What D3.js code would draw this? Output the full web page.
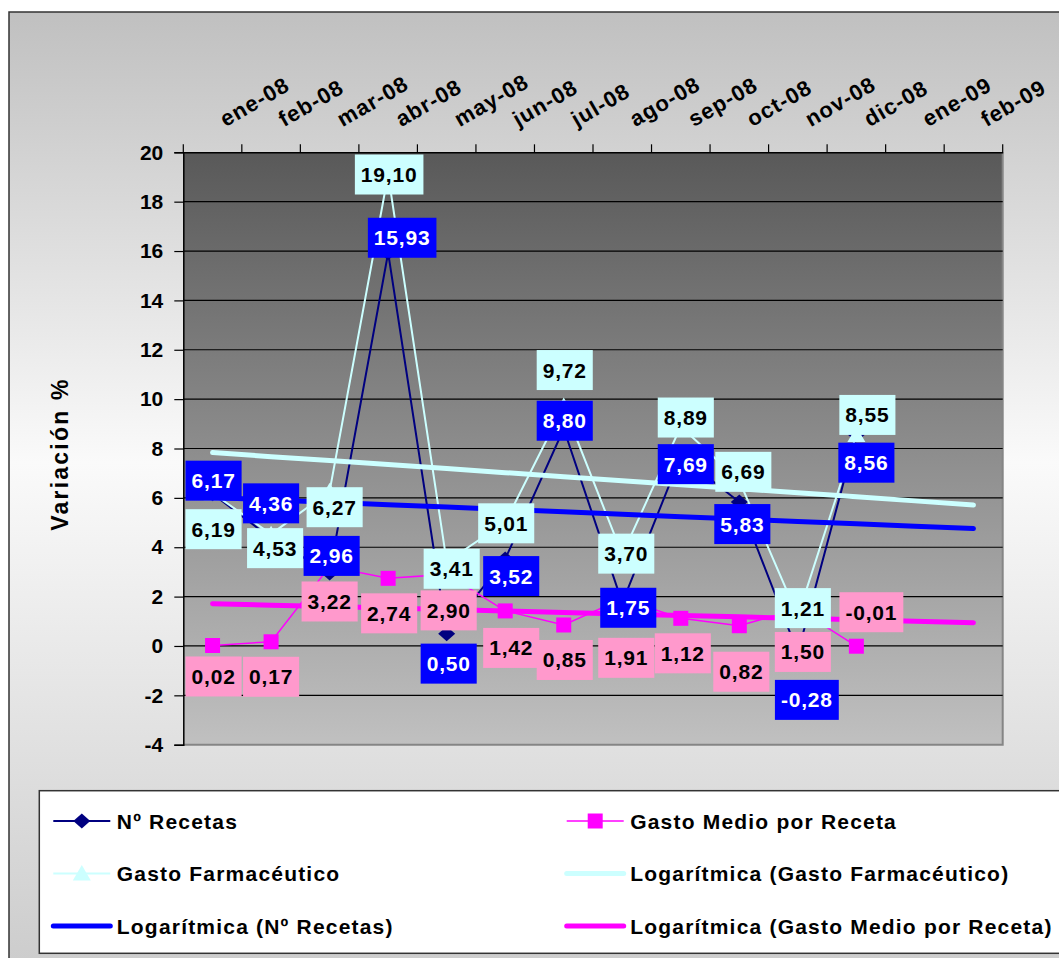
<!DOCTYPE html>
<html>
<head>
<meta charset="utf-8">
<script src="https://cdn.jsdelivr.net/npm/d3@7/dist/d3.min.js"></script>
<style>
  html, body { margin: 0; padding: 0; background: #fff; }
  svg { display: block; font-family: "Liberation Sans", Arial, sans-serif; font-weight: bold; }
</style>
</head>
<body>
<svg id="chart" width="1059" height="958"></svg>
<script>
const months = ['ene-08', 'feb-08', 'mar-08', 'abr-08', 'may-08', 'jun-08', 'jul-08',
                'ago-08', 'sep-08', 'oct-08', 'nov-08', 'dic-08', 'ene-09', 'feb-09'];
const recetas    = [6.17, 4.36, 2.96, 15.93, 0.50, 3.52, 8.80, 1.75, 7.69, 5.83, -0.28, 8.56];
const gastoMedio = [0.02, 0.17, 3.22, 2.74, 2.90, 1.42, 0.85, 1.91, 1.12, 0.82, 1.50, -0.01];
const gastoFarma = [6.19, 4.53, 6.27, 19.10, 3.41, 5.01, 9.72, 3.70, 8.89, 6.69, 1.21, 8.55];
const yTicks = [-4, -2, 0, 2, 4, 6, 8, 10, 12, 14, 16, 18, 20];

// label nudges (px, box centre relative to the point), the labels were hand placed
const recetasNudge = [[1,-13],[0,-35],[2,-17],[14,-15],[2,30],[6,17],[1,-8],[6,5],[5,8],[3,22],[9,47],[10,28]];
const farmaNudge   = [[1,36],[4,14],[5,16],[1,0],[5,7],[1,1],[1,-36],[4,-1],[5,-9],[4,-9],[5,-8],[11,-20]];
const medioNudge   = [[1,31],[0,35],[0,35],[1,35],[2,36],[6,37],[1,35],[4,59],[2,35],[2,46],[5,43],[15,-34]];

const svg = d3.select('#chart');
const defs = svg.append('defs');
const loc = d3.formatLocale({ decimal: ',', thousands: '.', grouping: [3], currency: ['', ' €'], minus: '-' });

const bgGrad = defs.append('linearGradient').attr('id', 'bg')
  .attr('gradientUnits', 'userSpaceOnUse').attr('x1', 0).attr('y1', 12).attr('x2', 0).attr('y2', 970);
bgGrad.append('stop').attr('offset', 0).attr('stop-color', '#c0c0c0');
bgGrad.append('stop').attr('offset', 0.47).attr('stop-color', '#fafafa');
bgGrad.append('stop').attr('offset', 1).attr('stop-color', '#cccccc');

const plotGrad = defs.append('linearGradient').attr('id', 'plotbg')
  .attr('x1', 0).attr('y1', 0).attr('x2', 0).attr('y2', 1);
plotGrad.append('stop').attr('offset', 0).attr('stop-color', '#595959');
plotGrad.append('stop').attr('offset', 1).attr('stop-color', '#c0c0c0');

svg.append('rect').attr('x', 9).attr('y', 12).attr('width', 1100).attr('height', 1000)
  .attr('fill', 'url(#bg)').attr('stroke', '#333').attr('stroke-width', 1.5);

const L = 183.3, R = 1002.7, T = 152.3, B = 744.7;

const x = d3.scaleBand().domain(months).range([L, R]);
const y = d3.scaleLinear().domain([-4, 20]).range([B, T]);
const cx = i => x(months[i]) + x.bandwidth() / 2;

// plot area
svg.append('rect').attr('x', L).attr('y', T).attr('width', R - L).attr('height', B - T)
  .attr('fill', 'url(#plotbg)');
svg.append('path').attr('d', `M${R},${T}V${B}H${L}`)
  .attr('fill', 'none').attr('stroke', '#858585').attr('stroke-width', 2);

// gridlines
svg.append('g').selectAll('line').data(yTicks.slice(1, -1)).join('line')
  .attr('x1', L).attr('x2', R).attr('y1', d => y(d)).attr('y2', d => y(d))
  .attr('stroke', '#000').attr('stroke-width', 1.2);

// y axis
const yAxis = svg.append('g').attr('transform', `translate(${L},0)`)
  .call(d3.axisLeft(y).tickValues(yTicks).tickSize(9).tickPadding(11).tickFormat(loc.format('d')));
yAxis.select('.domain').attr('stroke', '#000').attr('stroke-width', 1.5);
yAxis.selectAll('.tick line').attr('stroke', '#000').attr('stroke-width', 1.2);
yAxis.selectAll('.tick text').attr('font-size', 21).attr('font-weight', 'bold')
  .attr('fill', '#000').attr('font-family', '"Liberation Sans", Arial, sans-serif');

// top category axis
const xAxis = svg.append('g').attr('transform', `translate(0,${T})`)
  .call(d3.axisTop(x).tickSize(0).tickFormat(''));
xAxis.select('.domain').attr('stroke', '#000').attr('stroke-width', 1.5);
svg.append('g').selectAll('line').data(d3.range(months.length + 1)).join('line')
  .attr('x1', i => L + i * x.bandwidth()).attr('x2', i => L + i * x.bandwidth())
  .attr('y1', T - 8).attr('y2', T).attr('stroke', '#000').attr('stroke-width', 1.2);
svg.append('g').selectAll('text').data(months).join('text')
  .attr('transform', (d, i) => `translate(${cx(i) + 13},${T - 25}) rotate(-30)`)
  .attr('font-size', 22).attr('letter-spacing', 1).attr('fill', '#000')
  .text(d => d);

// y title
svg.append('text').attr('transform', 'translate(68,454) rotate(-90)')
  .attr('text-anchor', 'middle').attr('font-size', 23).attr('letter-spacing', 2.2)
  .attr('fill', '#000').text('Variación %');

// logarithmic trend (Excel style, x = date serial)
const serial = i => (Date.UTC(2008, i, 1) - Date.UTC(1899, 11, 30)) / 864e5;
function logTrend(vals) {
  const lx = vals.map((v, i) => Math.log(serial(i)));
  const mx = d3.mean(lx), my = d3.mean(vals);
  const a = d3.sum(lx, (l, i) => (l - mx) * (vals[i] - my)) / d3.sum(lx, l => (l - mx) ** 2);
  const b = my - a * mx;
  return months.map((m, i) => a * Math.log(serial(i)) + b);
}

const line = d3.line().x((d, i) => cx(i)).y(d => y(d));

const series = [
  { vals: recetas,    color: '#000080', w: 2,   marker: 'diamond', fill: '#000080' },
  { vals: gastoMedio, color: '#ff00ff', w: 1.5, marker: 'square',  fill: '#ff00ff' },
  { vals: gastoFarma, color: '#ccffff', w: 2,   marker: 'triangle', fill: '#ccffff' }
];
const trends = [
  { vals: logTrend(gastoFarma), color: '#ccffff' },
  { vals: logTrend(recetas),    color: '#0000ff' },
  { vals: logTrend(gastoMedio), color: '#ff00ff' }
];

const markerPath = {
  diamond:  'M0,-7.5L8.5,0L0,7.5L-8.5,0Z',
  square:   'M-7.5,-7.5H7.5V7.5H-7.5Z',
  triangle: 'M0,-8.5L9,7L-9,7Z'
};

const gLines = svg.append('g');
series.forEach(s => {
  gLines.append('path').datum(s.vals).attr('d', line)
    .attr('fill', 'none').attr('stroke', s.color).attr('stroke-width', s.w);
});
trends.forEach(t => {
  gLines.append('path').datum(t.vals).attr('d', line)
    .attr('fill', 'none').attr('stroke', t.color).attr('stroke-width', 5)
    .attr('stroke-linecap', 'round').attr('stroke-linejoin', 'round');
});
series.forEach(s => {
  gLines.append('g').selectAll('path').data(s.vals).join('path')
    .attr('transform', (d, i) => `translate(${cx(i)},${y(d)})`)
    .attr('d', markerPath[s.marker]).attr('fill', s.fill);
});

// data labels
const fmt = loc.format('.2f');
const labelSets = [
  { vals: recetas,    nudge: recetasNudge, fill: '#0000ff', text: '#ffffff' },
  { vals: gastoMedio, nudge: medioNudge,   fill: '#ff99cc', text: '#000000' },
  { vals: gastoFarma, nudge: farmaNudge,   fill: '#ccffff', text: '#000000' }
];
const gLab = svg.append('g');
labelSets.forEach(ls => {
  ls.vals.forEach((v, i) => {
    const px = cx(i) + ls.nudge[i][0];
    const py = y(v) + ls.nudge[i][1];
    const g = gLab.append('g').attr('transform', `translate(${px},${py})`);
    const r = g.append('rect').attr('fill', ls.fill);
    const t = g.append('text').attr('text-anchor', 'middle').attr('y', 7.5)
      .attr('font-size', 21).attr('letter-spacing', 0.8).attr('fill', ls.text).text(fmt(v));
    const w = t.node().getComputedTextLength() + 12;
    r.attr('x', -w / 2).attr('y', -20).attr('width', w).attr('height', 40);
  });
});

// legend
const leg = svg.append('g');
leg.append('rect').attr('x', 39.3).attr('y', 790.7).attr('width', 1100).attr('height', 162.6)
  .attr('fill', '#fff').attr('stroke', '#333').attr('stroke-width', 1.5);

const legendItems = [
  { name: 'Nº Recetas', color: '#000080', w: 2, marker: 'diamond', col: 0, row: 0 },
  { name: 'Gasto Medio por Receta', color: '#ff00ff', w: 1.5, marker: 'square', col: 1, row: 0 },
  { name: 'Gasto Farmacéutico', color: '#ccffff', w: 2, marker: 'triangle', col: 0, row: 1 },
  { name: 'Logarítmica (Gasto Farmacéutico)', color: '#ccffff', w: 5, col: 1, row: 1 },
  { name: 'Logarítmica (Nº Recetas)', color: '#0000ff', w: 5, col: 0, row: 2 },
  { name: 'Logarítmica (Gasto Medio por Receta)', color: '#ff00ff', w: 5, col: 1, row: 2 }
];
const colX = [53.3, 566.7];
const rowY = [821, 873.5, 926];
legendItems.forEach(it => {
  const x0 = colX[it.col], yy = rowY[it.row];
  leg.append('line').attr('x1', x0).attr('x2', x0 + 57).attr('y1', yy).attr('y2', yy)
    .attr('stroke', it.color).attr('stroke-width', it.w).attr('stroke-linecap', it.w > 3 ? 'round' : 'butt');
  if (it.marker) {
    leg.append('path').attr('transform', `translate(${x0 + 28.5},${yy})`)
      .attr('d', markerPath[it.marker]).attr('fill', it.color);
  }
  leg.append('text').attr('x', x0 + 63.5).attr('y', yy + 7.5)
    .attr('font-size', 21).attr('letter-spacing', 1.2).attr('fill', '#000').text(it.name);
});
</script>
</body>
</html>
